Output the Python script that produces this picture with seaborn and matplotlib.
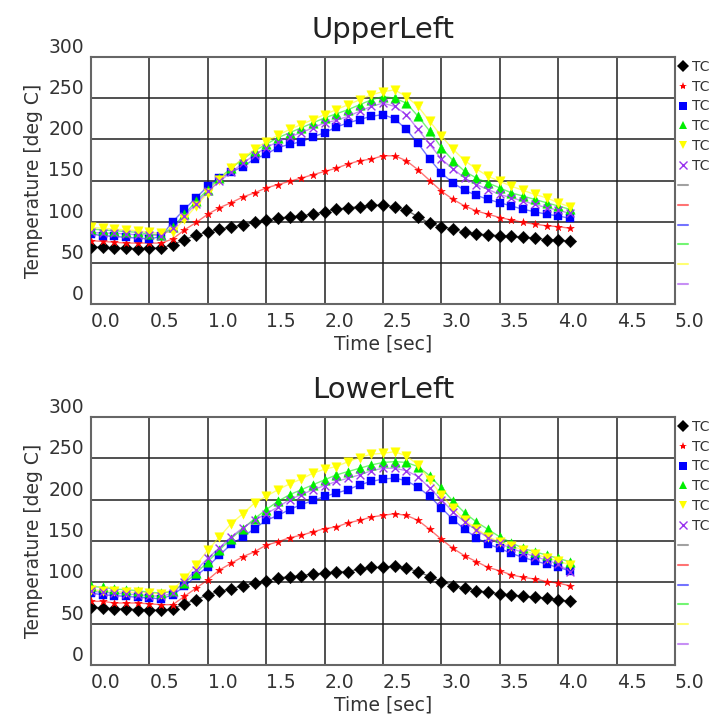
import numpy as np
import pandas as pd
import matplotlib
matplotlib.use("Agg")
import matplotlib.pyplot as plt
from matplotlib.lines import Line2D
import seaborn as sns

# ---------------- data ----------------
time = [round(0.1 * i, 1) for i in range(42)]  # 0.0 .. 4.1 s

sensors = ["TC1", "TC2", "TC3", "TC4", "TC5", "TC6"]
colors = ["#000000", "#ff0000", "#0000ff", "#00ee00", "#ffff00", "#9933ee"]
markers = ["D", "*", "s", "^", "v", "x"]
msizes = [40, 34, 40, 46, 46, 32]

upper_tc1 = [69, 69, 68, 68, 67, 68, 68, 72, 78, 84, 87, 91, 93, 96, 99, 102, 104, 106, 107, 109, 112,
             115, 117, 118, 120, 120, 118, 114, 106, 98, 94, 91, 87, 85, 84, 83, 82, 81, 80, 78, 78, 76]
upper_tc2 = [77, 76, 75, 74, 74, 74, 74, 79, 90, 99, 109, 117, 123, 130, 135, 141, 145, 149, 153, 157, 161,
             165, 170, 174, 176, 180, 180, 174, 163, 150, 137, 127, 119, 113, 109, 105, 102, 99, 97, 95, 94, 92]
upper_tc3 = [85, 83, 82, 81, 80, 79, 82, 100, 115, 129, 143, 153, 160, 167, 176, 182, 190, 194, 197, 203, 208,
             215, 220, 224, 228, 230, 225, 212, 195, 176, 159, 147, 138, 132, 127, 123, 119, 115, 112, 109, 107, 104]
upper_tc4 = [91, 90, 89, 88, 87, 85, 84, 93, 109, 125, 139, 153, 165, 176, 186, 194, 202, 208, 214, 220, 226,
             231, 236, 242, 248, 252, 250, 244, 228, 210, 190, 174, 161, 153, 147, 141, 135, 131, 127, 123, 119, 115]
upper_tc5 = [93, 92, 91, 90, 89, 87, 86, 88, 103, 119, 135, 151, 165, 177, 188, 197, 205, 212, 218, 224, 230,
             236, 242, 248, 254, 258, 260, 252, 240, 222, 204, 188, 174, 164, 155, 149, 143, 138, 133, 129, 123, 118]
upper_tc6 = [87, 86, 86, 85, 84, 84, 83, 92, 107, 122, 137, 149, 160, 171, 181, 190, 197, 203, 208, 214, 220,
             223, 228, 234, 240, 244, 240, 230, 212, 194, 176, 164, 153, 145, 139, 133, 129, 125, 121, 117, 114, 110]

lower_tc1 = [70, 69, 68, 68, 67, 67, 66, 68, 74, 79, 85, 89, 92, 96, 99, 102, 105, 107, 108, 110, 111,
             113, 113, 116, 118, 118, 120, 117, 113, 107, 101, 96, 93, 90, 88, 86, 85, 83, 82, 81, 79, 77]
lower_tc2 = [77, 77, 75, 75, 75, 74, 73, 73, 83, 93, 103, 115, 123, 131, 137, 145, 149, 154, 157, 161, 165,
             167, 172, 175, 179, 181, 183, 181, 175, 164, 152, 141, 132, 125, 118, 114, 109, 106, 104, 101, 99, 96]
lower_tc3 = [87, 85, 84, 83, 82, 81, 80, 85, 95, 108, 119, 133, 146, 155, 165, 175, 181, 188, 194, 199, 204,
             208, 212, 218, 222, 225, 226, 223, 215, 204, 190, 176, 164, 154, 146, 141, 135, 130, 126, 122, 118, 114]
lower_tc4 = [95, 94, 92, 91, 90, 88, 87, 89, 99, 111, 125, 139, 153, 165, 177, 188, 198, 206, 212, 218, 224,
             230, 234, 238, 242, 245, 246, 245, 240, 229, 214, 198, 184, 173, 164, 155, 148, 141, 137, 133, 129, 125]
lower_tc5 = [91, 90, 89, 88, 88, 87, 86, 91, 105, 121, 139, 155, 171, 183, 196, 204, 212, 219, 225, 232, 237,
             240, 246, 251, 255, 256, 258, 253, 242, 224, 206, 190, 175, 165, 155, 149, 144, 139, 134, 130, 126, 121]
lower_tc6 = [89, 88, 87, 86, 85, 84, 83, 87, 101, 115, 129, 142, 155, 166, 175, 183, 191, 200, 206, 212, 217,
             222, 226, 230, 235, 238, 238, 235, 228, 214, 200, 185, 173, 163, 154, 147, 141, 136, 131, 127, 122, 113]

x_ticks = [0.0, 0.5, 1.0, 1.5, 2.0, 2.5, 3.0, 3.5, 4.0, 4.5, 5.0]
x_ticklabels = ["0.0", "0.5", "1.0", "1.5", "2.0", "2.5", "3.0", "3.5", "4.0", "4.5", "5.0"]
y_ticks = [0, 50, 100, 150, 200, 250, 300]
y_ticklabels = ["0", "50", "100", "150", "200", "250", "300"]

panels = [
    ("UpperLeft", [upper_tc1, upper_tc2, upper_tc3, upper_tc4, upper_tc5, upper_tc6]),
    ("LowerLeft", [lower_tc1, lower_tc2, lower_tc3, lower_tc4, lower_tc5, lower_tc6]),
]

# ---------------- figure ----------------
sns.set_style("white")
plt.rcParams["font.family"] = ["DejaVu Sans"]
text_color = "#333333"

fig = plt.figure(figsize=(7.09, 7.20), dpi=100)
W, H = 709, 720
axes_px = [(91, 57, 675, 304), (91, 417, 675, 665)]  # left, top, right, bottom

for (title, series), (l, t, r, b) in zip(panels, axes_px):
    ax = fig.add_axes([l / W, 1 - b / H, (r - l) / W, (b - t) / H])
    df = pd.DataFrame({"time": time})
    for name, vals in zip(sensors, series):
        df[name] = vals
    for name, c, m, s in zip(sensors, colors, markers, msizes):
        sns.lineplot(data=df, x="time", y=name, color=c, linewidth=1.0, alpha=0.55, ax=ax)
        sns.scatterplot(data=df, x="time", y=name, color=c, marker=m, s=s,
                        edgecolor=c, linewidth=1.0 if m == "x" else 0.3, ax=ax, zorder=3)
    ax.set_xlim(0, 5)
    ax.set_ylim(0, 300)
    ax.set_xticks(x_ticks)
    ax.set_xticklabels(x_ticklabels, ha="left")
    ax.set_yticks(y_ticks)
    ax.set_yticklabels(y_ticklabels, va="bottom")
    ax.tick_params(length=0, labelsize=13.5, colors=text_color, pad=6)
    ax.tick_params(axis="y", pad=5)
    ax.grid(True, color="#222222", linewidth=1.3, alpha=0.85)
    ax.set_axisbelow(True)
    for sp in ax.spines.values():
        sp.set_color("#666666")
        sp.set_linewidth(1.5)
    ax.set_title(title, fontsize=21, color="#222222", pad=14)
    ax.set_xlabel("Time [sec]", fontsize=13.5, color=text_color, labelpad=2)
    ax.set_ylabel("Temperature [deg C]", fontsize=13.5, color=text_color, labelpad=4)

    handles = [Line2D([], [], marker=m, color=c, linestyle="none", markersize=6,
                      markeredgewidth=1.0 if m == "x" else 0)
               for c, m in zip(colors, markers)]
    handles += [Line2D([], [], color=("#555555" if c == "#000000" else c), alpha=0.55, linewidth=1.5)
                for c in colors]
    labels = sensors + [""] * 6
    ax.legend(handles, labels, loc="upper left", bbox_to_anchor=(1.0, 1.0), frameon=False,
              fontsize=10, handlelength=0.7, handletextpad=0.3, borderpad=0.2,
              borderaxespad=0.0, labelspacing=0.42, labelcolor=text_color)

fig.savefig("out.png", dpi=100)
